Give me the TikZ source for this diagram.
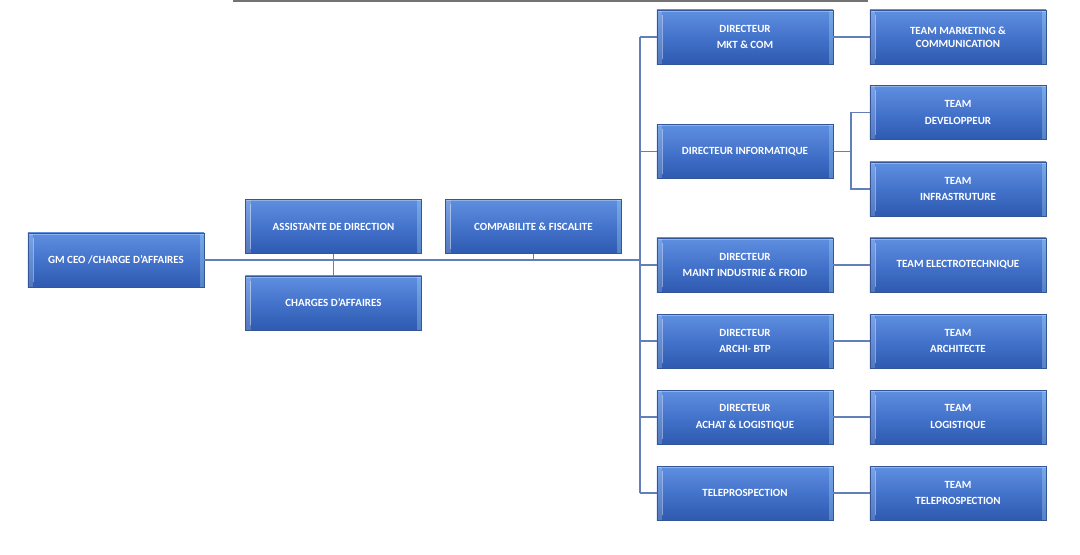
\documentclass[tikz,border=0pt]{standalone}
\usepackage{fontspec}
\newfontfamily\boxfont{Carlito}
\usepackage{tikz}
\definecolor{boxtop}{RGB}{95,143,224}
\definecolor{boxmid}{RGB}{68,115,203}
\definecolor{boxbot}{RGB}{46,90,176}
\definecolor{boxedge}{RGB}{52,86,150}
\definecolor{wire}{RGB}{98,128,184}
\definecolor{topline}{RGB}{115,115,115}
\begin{document}
\begin{tikzpicture}[x=0.025cm, y=-0.025cm,
  orgbox/.style={rectangle, draw=boxedge, line width=0.5pt, top color=boxtop, bottom color=boxbot, middle color=boxmid,
    minimum width=4.4cm, minimum height=1.35cm, inner sep=2pt, text=white, align=center,
    font=\boxfont\bfseries\fontsize{7.8}{11.8}\selectfont,
    path picture={
      \fill[white, opacity=0.18] (path picture bounding box.north west) rectangle ([xshift=0.13cm]path picture bounding box.south west);
      \fill[cyan!30!white, opacity=0.3] ([xshift=-0.11cm]path picture bounding box.north east) rectangle (path picture bounding box.south east);
      \draw[white, opacity=0.4, line width=0.6pt] ([xshift=0.13cm, yshift=-0.12cm]path picture bounding box.north west) -- ([xshift=0.13cm, yshift=0.12cm]path picture bounding box.south west);
      \draw[white, opacity=0.3, line width=0.8pt] ([yshift=-0.03cm]path picture bounding box.north west) -- ([yshift=-0.03cm]path picture bounding box.north east);
    }},
  link/.style={draw=wire, line width=1pt}]
\useasboundingbox (0,0) rectangle (1080,554);

\coordinate (rulel) at (233,1);
\coordinate (ruler) at (868,1);
\draw[topline, line width=0.9pt] (rulel) -- (ruler);

\node[orgbox] (gm) at (116,260) {GM CEO /CHARGE D’AFFAIRES};
\node[orgbox] (assist) at (333.5,226.5) {ASSISTANTE DE DIRECTION};
\node[orgbox] (charges) at (333.5,303) {CHARGES D’AFFAIRES};
\node[orgbox] (compta) at (533.5,226.5) {COMPABILITE \& FISCALITE};

\node[orgbox] (dmkt) at (745,37) {DIRECTEUR\\MKT \& COM};
\node[orgbox] (dinfo) at (745,151.5) {DIRECTEUR INFORMATIQUE};
\node[orgbox] (dmaint) at (745,265) {DIRECTEUR\\MAINT INDUSTRIE \& FROID};
\node[orgbox] (darchi) at (745,341) {DIRECTEUR\\ARCHI- BTP};
\node[orgbox] (dachat) at (745,417) {DIRECTEUR\\ACHAT \& LOGISTIQUE};
\node[orgbox] (dtele) at (745,493) {TELEPROSPECTION};

\node[orgbox] (tmkt) at (958,37) {TEAM MARKETING \&\\[-2.5pt]COMMUNICATION};
\node[orgbox] (tdev) at (958,112.5) {TEAM\\DEVELOPPEUR};
\node[orgbox] (tinfra) at (958,189) {TEAM\\INFRASTRUTURE};
\node[orgbox] (telec) at (958,265) {TEAM ELECTROTECHNIQUE};
\node[orgbox] (tarchi) at (958,341) {TEAM\\ARCHITECTE};
\node[orgbox] (tlog) at (958,417) {TEAM\\LOGISTIQUE};
\node[orgbox] (ttele) at (958,493) {TEAM\\TELEPROSPECTION};

\coordinate (hub) at (640,260);
\coordinate (split) at (851,151.5);

\draw[link] (gm.east) -- (hub);
\draw[link] (assist.south) -- (charges.north);
\draw[link] (compta.south) -- (compta.south |- hub);
\draw[link] (dmkt.west -| hub) -- (dtele.west -| hub);
\foreach \d in {dmkt,dinfo,dmaint,darchi,dachat,dtele}
  \draw[link] (\d.west) -- (\d.west -| hub);
\foreach \d/\t in {dmkt/tmkt,dmaint/telec,darchi/tarchi,dachat/tlog,dtele/ttele}
  \draw[link] (\d.east) -- (\t.west);
\draw[link] (dinfo.east) -- (split);
\draw[link] (tdev.west) -| (split) |- (tinfra.west);

\end{tikzpicture}
\end{document}
